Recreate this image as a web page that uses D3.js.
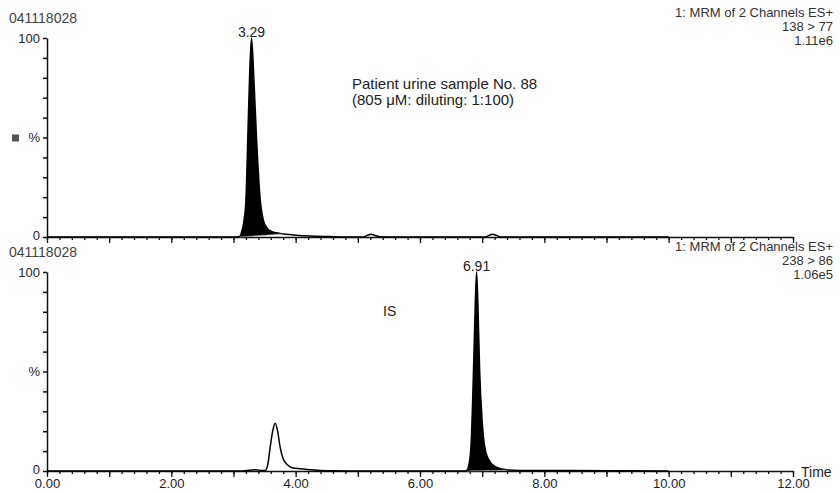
<!DOCTYPE html>
<html>
<head>
<meta charset="utf-8">
<script src="https://cdn.jsdelivr.net/npm/d3@7"></script>
<style>
  body { margin: 0; background: #fff; }
  text { font-family: "Liberation Sans", Arial, sans-serif; }
</style>
</head>
<body>
<div id="my_dataviz"></div>
<script>
// channel 1: 138 > 77 (time in min, intensity in %)
var ch1_t = [0.00, 3.00, 3.10, 3.13, 3.17, 3.20, 3.23, 3.26, 3.29, 3.33, 3.37, 3.43, 3.48, 3.54, 3.61, 3.75, 3.90, 4.05, 4.23, 4.55, 4.80, 5.08, 5.15, 5.21, 5.28, 5.36, 5.60, 7.05, 7.11, 7.17, 7.23, 7.30, 10.00];
var ch1_y = [0, 0, 0.3, 2.5, 8.5, 18.6, 50, 82, 100, 78, 50, 18.6, 8.5, 4.5, 2.8, 1.8, 1.2, 0.8, 0.5, 0.2, 0, 0, 0.8, 1.4, 0.8, 0.1, 0, 0, 0.8, 1.4, 0.8, 0, 0];
// channel 2: 238 > 86 (internal standard)
var ch2_t = [0.00, 3.15, 3.25, 3.35, 3.45, 3.51, 3.55, 3.59, 3.63, 3.67, 3.71, 3.75, 3.80, 3.87, 3.96, 4.18, 4.39, 4.60, 5.00, 6.70, 6.75, 6.78, 6.82, 6.86, 6.89, 6.91, 6.93, 6.96, 7.00, 7.04, 7.10, 7.21, 7.39, 7.60, 8.00, 9.00, 10.00];
var ch2_y = [0, 0, 0.4, 0.6, 0.3, 0.2, 3, 12, 20, 24, 20, 12, 6, 3, 1.5, 0.8, 0.3, 0.1, 0, 0, 0.3, 2.2, 12.4, 50, 85, 100, 85, 50, 25, 12.4, 6, 2.2, 0.6, 0.3, 0.3, 0.1, 0];

// integrated (filled) peak windows and their baselines [start, end]
var ch1_fill_t = [3.10, 3.80], ch1_fill_base = [0, 1.6];
var ch2_fill_t = [6.75, 7.40], ch2_fill_base = [0, 0.4];

var peakLabels = [{ch: 1, t: 3.29, label: "3.29"}, {ch: 2, t: 6.91, label: "6.91"}];
var xLabelTicks = [0, 2, 4, 6, 8, 10, 12];
var headers = [
  {ch: 1, id: "041118028", lines: ["1: MRM of 2 Channels ES+", "138 > 77", "1.11e6"]},
  {ch: 2, id: "041118028", lines: ["1: MRM of 2 Channels ES+", "238 > 86", "1.06e5"]}
];

var width = 840, height = 491;

var svg = d3.select("#my_dataviz")
  .append("svg")
    .attr("width", width)
    .attr("height", height);

var x = d3.scaleLinear().domain([0, 12]).range([47, 793]);
var y1 = d3.scaleLinear().domain([0, 100]).range([237, 38]);
var y2 = d3.scaleLinear().domain([0, 100]).range([471, 272]);

var data1 = ch1_t.map(function(t, i) { return {t: t, v: ch1_y[i]}; });
var data2 = ch2_t.map(function(t, i) { return {t: t, v: ch2_y[i]}; });

function panel(data, y, fill_t, fill_base, showLabels) {
  var base = d3.scaleLinear().domain(fill_t).range(fill_base);
  var fillData = data.filter(function(d) { return d.t >= fill_t[0] && d.t <= fill_t[1]; });

  // filled peak
  svg.append("path")
    .datum(fillData)
    .attr("fill", "black")
    .attr("d", d3.area()
      .curve(d3.curveMonotoneX)
      .x(function(d) { return x(d.t); })
      .y0(function(d) { return y(Math.min(base(d.t), d.v)); })
      .y1(function(d) { return y(d.v); })
    );

  // y axis
  var ay = svg.append("g")
    .attr("transform", "translate(" + x(0) + ",0)")
    .call(d3.axisLeft(y)
      .tickValues(d3.range(0, 101, 10))
      .tickSize(4)
      .tickSizeOuter(0)
      .tickPadding(3)
      .tickFormat(function(d) { return d === 0 || d === 100 ? d : (d === 50 ? "%" : ""); }));
  ay.selectAll(".tick text")
    .attr("font-size", 13)
    .attr("font-family", "Liberation Sans, Arial, sans-serif")
    .attr("fill", "#222")
    .attr("dy", function(d) { return d === 0 ? "0.2em" : "0.32em"; });
  ay.selectAll("line, path").attr("stroke", "#111").attr("stroke-width", 1.5);

  // x axis minor ticks
  var ax = svg.append("g")
    .attr("transform", "translate(0," + y(0) + ")")
    .call(d3.axisBottom(x)
      .tickValues(d3.range(0, 12.01, 0.2))
      .tickSize(3)
      .tickSizeOuter(0)
      .tickFormat(""));
  ax.selectAll("line, path").attr("stroke", "#111").attr("stroke-width", 1.3);

  // x axis major ticks
  var ax2 = svg.append("g")
    .attr("transform", "translate(0," + y(0) + ")")
    .call(d3.axisBottom(x)
      .tickValues(d3.range(0, 12.01, 1))
      .tickSize(6)
      .tickSizeOuter(0)
      .tickPadding(2)
      .tickFormat(function(d) { return showLabels && xLabelTicks.indexOf(d) >= 0 ? d3.format(".2f")(d) : ""; }));
  ax2.select(".domain").remove();
  ax2.selectAll("line").attr("stroke", "#111").attr("stroke-width", 1.3);
  ax2.selectAll(".tick text")
    .attr("font-size", 13)
    .attr("font-family", "Liberation Sans, Arial, sans-serif")
    .attr("fill", "#222");

  // trace
  svg.append("path")
    .datum(data)
    .attr("fill", "none")
    .attr("stroke", "black")
    .attr("stroke-width", 1.5)
    .attr("d", d3.line()
      .curve(d3.curveMonotoneX)
      .x(function(d) { return x(d.t); })
      .y(function(d) { return y(d.v); })
    );

  // integration baseline
  svg.append("path")
    .datum(fill_t)
    .attr("fill", "none")
    .attr("stroke", "#999")
    .attr("stroke-width", 0.6)
    .attr("d", d3.line()
      .x(function(d) { return x(d); })
      .y(function(d) { return y(base(d)); })
    );
}

panel(data1, y1, ch1_fill_t, ch1_fill_base, false);
panel(data2, y2, ch2_fill_t, ch2_fill_base, true);

// headers
headers.forEach(function(h) {
  var y = h.ch === 1 ? y1 : y2;
  var top = y(100);
  svg.append("text")
    .attr("x", 9)
    .attr("y", top - 15)
    .attr("font-size", 14)
    .attr("fill", "#444")
    .text(h.id);
  h.lines.forEach(function(s, i) {
    svg.append("text")
      .attr("x", 833)
      .attr("y", top - 21 + i * 14)
      .attr("text-anchor", "end")
      .attr("font-size", 13)
      .attr("fill", "#333")
      .text(s);
  });
});

// peak labels
peakLabels.forEach(function(p) {
  var y = p.ch === 1 ? y1 : y2;
  svg.append("text")
    .attr("x", x(p.t))
    .attr("y", y(100) - 1)
    .attr("text-anchor", "middle")
    .attr("font-size", 14)
    .attr("fill", "#222")
    .text(p.label);
});

// marker square next to "%" on the upper panel
svg.append("rect")
  .attr("x", 12)
  .attr("y", y1(50) - 3)
  .attr("width", 7)
  .attr("height", 7)
  .attr("fill", "#555");

// annotations
svg.append("text")
  .attr("x", 352).attr("y", 89)
  .attr("font-size", 15).attr("fill", "#222")
  .text("Patient urine sample No. 88");
svg.append("text")
  .attr("x", 352).attr("y", 105)
  .attr("font-size", 15).attr("fill", "#222")
  .text("(805 μM: diluting: 1:100)");
svg.append("text")
  .attr("x", 383).attr("y", 316)
  .attr("font-size", 14).attr("fill", "#222")
  .text("IS");

// axis title
svg.append("text")
  .attr("x", 801).attr("y", 477)
  .attr("font-size", 14).attr("fill", "#222")
  .text("Time");
</script>
</body>
</html>
